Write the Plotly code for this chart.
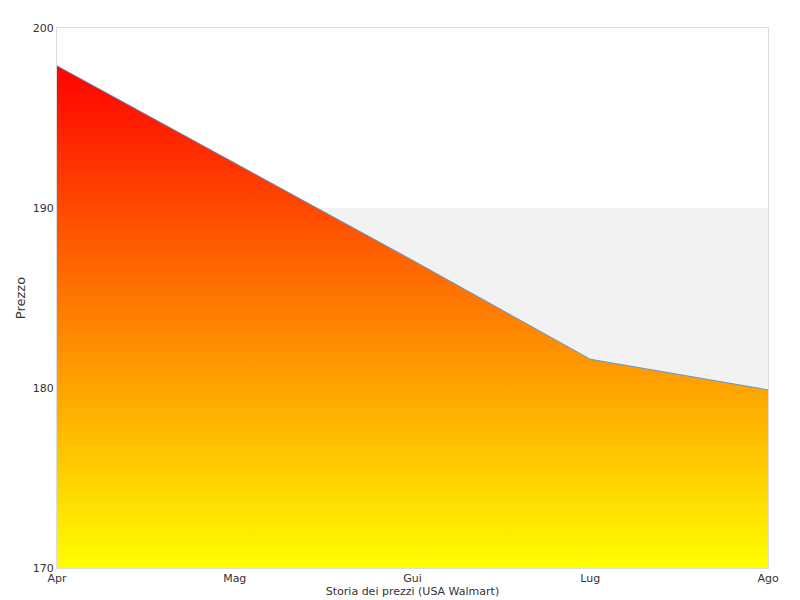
import plotly.graph_objects as go

months = ["Apr", "Mag", "Gui", "Lug", "Ago"]
prices = [197.9, 192.5, 187.1, 181.6, 179.9]

fig = go.Figure()
fig.add_trace(go.Scatter(
    x=months, y=prices, mode="lines", fill="tozeroy",
    line=dict(color="#5b9bd5", width=1),
    fillgradient=dict(type="vertical", start=170, stop=198,
                      colorscale=[[0, "#ffff00"], [1, "#ff0000"]]),
    hoverinfo="x+y",
))
fig.add_shape(type="rect", xref="paper", yref="y", x0=0, x1=1, y0=180, y1=190,
              fillcolor="#f2f2f2", line_width=0, layer="below")
fig.update_layout(
    width=800, height=600, margin=dict(l=40, r=40, t=20, b=40),
    plot_bgcolor="white", paper_bgcolor="white", showlegend=False,
    font=dict(family="DejaVu Sans", size=11, color="#333"),
    xaxis=dict(range=[0, 4], showgrid=False, showline=True, linecolor="#ddd",
               mirror=True, ticks="", title=dict(text="Storia dei prezzi (USA Walmart)", standoff=2)),
    yaxis=dict(range=[170, 200], dtick=10, showgrid=False, showline=True,
               linecolor="#ddd", mirror=True, title=dict(text="Prezzo", standoff=4)),
)
fig.update_xaxes(title_font=dict(size=11))
fig.write_html("out.html")
